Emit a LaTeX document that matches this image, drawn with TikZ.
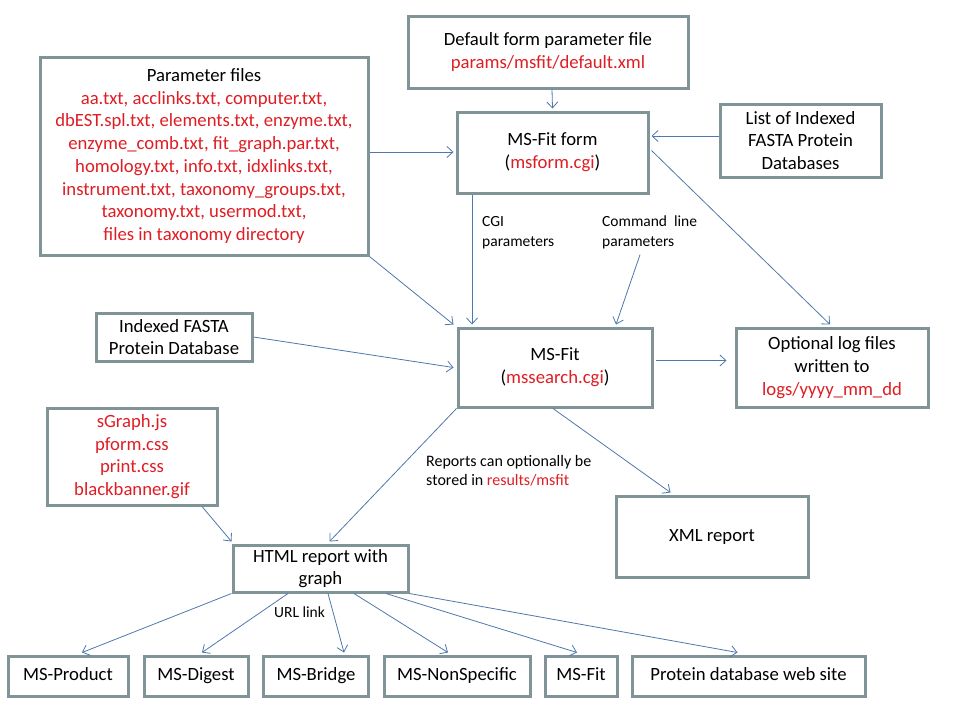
\documentclass[tikz,border=0pt]{standalone}
\usepackage{fontspec}
\setmainfont{Carlito}
\usetikzlibrary{arrows.meta,calc}
\definecolor{boxgray}{RGB}{128,148,152}
\definecolor{arrowblue}{RGB}{79,120,170}
\definecolor{redtxt}{RGB}{222,30,36}
\newcommand{\rd}[1]{\textcolor{redtxt}{#1}}
\begin{document}
\begin{tikzpicture}[x=1pt,y=-1pt,
  box/.style={draw=boxgray, line width=3pt, fill=white, align=center, inner sep=0pt,
    font=\fontsize{18.7}{22.7}\selectfont},
  bbox/.style={box, minimum height=40, text height=13pt, text depth=4pt},
  arr/.style={draw=arrowblue, line width=0.8pt, -{Straight Barb[length=6pt,width=11pt,line width=0.8pt]}},
  lbl/.style={align=left, inner sep=0pt, anchor=north west, font=\fontsize{15.5}{20}\selectfont}
]
\useasboundingbox (0,0) rectangle (960,720);
% boxes
\node[box, minimum width=328, minimum height=198] (params) at (204,156)
  {Parameter files\\
  \rd{aa.txt, acclinks.txt, computer.txt,}\\
  \rd{dbEST.spl.txt, elements.txt, enzyme.txt,}\\
  \rd{enzyme\_comb.txt, fit\_graph.par.txt,}\\
  \rd{homology.txt, info.txt, idxlinks.txt,}\\
  \rd{instrument.txt, taxonomy\_groups.txt,}\\
  \rd{taxonomy.txt, usermod.txt,}\\
  \rd{files in taxonomy directory}};
\node[box, minimum width=280, minimum height=72] (default) at (548,52)
  {Default form parameter file\\ \rd{params/msfit/default.xml}};
\node[box, minimum width=191, minimum height=81] (form) at (552.5,152.5)
  {MS-Fit form\\ (\rd{msform.cgi})};
\node[box, minimum width=161, minimum height=73] (list) at (800.5,140.5)
  {List of Indexed\\ FASTA Protein\\ Databases};
\node[box, minimum width=194, minimum height=79] (fit) at (555,367.5)
  {MS-Fit\\ (\rd{mssearch.cgi})};
\node[box, minimum width=156, minimum height=48] (fasta) at (174,337)
  {Indexed FASTA\\ Protein Database};
\node[box, minimum width=192, minimum height=79] (log) at (832,367.5)
  {Optional log files\\ written to\\ \rd{logs/yyyy\_mm\_dd}};
\node[box, minimum width=170, minimum height=97] (sgraph) at (132,456.5)
  {\rd{sGraph.js}\\ \rd{pform.css}\\ \rd{print.css}\\ \rd{blackbanner.gif}};
\node[box, minimum width=175, minimum height=47] (html) at (320.5,568.5)
  {HTML report with\\ graph};
\node[box, minimum width=192, minimum height=81] (xml) at (712,536.5)
  {XML report};
\node[bbox, minimum width=120] (product) at (68,676) {MS-Product};
\node[bbox, minimum width=104] (digest) at (196,676) {MS-Digest};
\node[bbox, minimum width=105] (bridge) at (316,676) {MS-Bridge};
\node[bbox, minimum width=146] (nonspec) at (457,676) {MS-NonSpecific};
\node[bbox, minimum width=72] (fit2) at (581,676) {MS-Fit};
\node[bbox, minimum width=233] (protein) at (748.5,676) {Protein database web site};
% labels
\node[lbl] (cgi) at (482,216) {CGI\\ parameters};
\node[lbl] (cmd) at (602,216) {Command\ \ line\\ parameters};
\node[lbl, font=\fontsize{16}{19}\selectfont] (rep) at (426,455) {Reports can optionally be\\ stored in \rd{results/msfit}};
\node[lbl] (url) at (274,607) {URL link};
% connectors
\draw[arr] (default.south -| 552,0) -- ($(form.north)+(0,-2)$);
\draw[arr] (params.east |- 0,152) -- ($(form.west |- 0,152)+(-2,0)$);
\draw[arr] (list.west |- 0,136) -- ($(form.east |- 0,136)+(2,0)$);
\draw[arr] ($(form.east)+(2,-2)$) -- ($(log.north)+(-2,-2)$);
\draw[arr] (form.south -| 472,0) -- ($(fit.north -| 472,0)+(0,-2)$);
\draw[arr] ($(cmd.south west)+(38,5)$) -- ($(fit.north -| 616,0)+(0,-2)$);
\draw[arr] (params.south east) -- ($(fit.north west)+(-3,-2)$);
\draw[arr] (fasta.east) -- ($(fit.west)+(-3,0)$);
\draw[arr] ($(fit.east)+(2,-7)$) -- ($(log.west |- 0,360.5)+(-8,0)$);
\draw[arr] (fit.south west) -- ($(html.north)+(9,-2)$);
\draw[arr] (fit.south -| 553,0) -- ($(xml.north west)+(56,-2)$);
\draw[arr] (sgraph.south -| 202,0) -- ($(html.north west)+(0,-2)$);
\draw[arr] (html.south west) -- ($(product.north)+(14,-2)$);
\draw[arr] (html.south -| 288,0) -- ($(digest.north)+(6,-2)$);
\draw[arr] (html.south -| 328,0) -- ($(bridge.north)+(28,-2)$);
\draw[arr] (html.south -| 354,0) -- ($(nonspec.north)+(-9,-2)$);
\draw[arr] (html.south -| 386,0) -- ($(fit2.north)+(-4,-2)$);
\draw[arr] (html.south east) -- ($(protein.north)+(-11,-2)$);
\end{tikzpicture}
\end{document}
